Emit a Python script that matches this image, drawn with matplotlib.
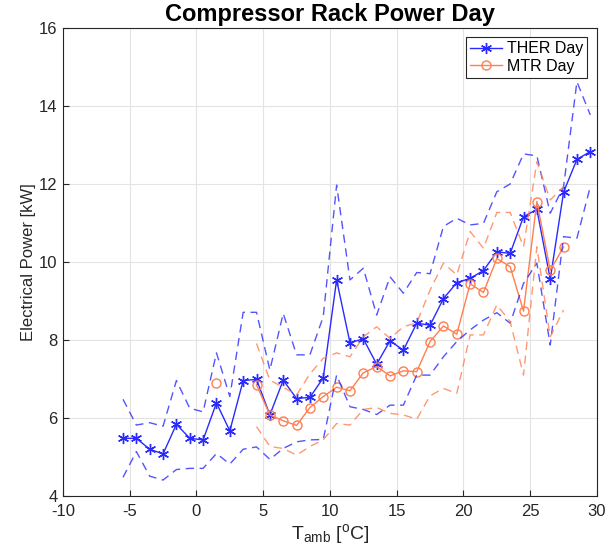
import numpy as np
import matplotlib
matplotlib.use("Agg")
import matplotlib.pyplot as plt

plt.rcParams['font.family'] = ['Liberation Sans', 'DejaVu Sans']
plt.rcParams['mathtext.fontset'] = 'custom'
plt.rcParams['mathtext.rm'] = 'Liberation Sans'
plt.rcParams['mathtext.it'] = 'Liberation Sans'
plt.rcParams['axes.unicode_minus'] = False

nan = np.nan
t_amb = [-5.5, -4.5, -3.5, -2.5, -1.5, -0.5, 0.5, 1.5, 2.5, 3.5, 4.5, 5.5,
         6.5, 7.5, 8.5, 9.5, 10.5, 11.5, 12.5, 13.5, 14.5, 15.5, 16.5, 17.5,
         18.5, 19.5, 20.5, 21.5, 22.5, 23.5, 24.5, 25.5, 26.5, 27.5, 28.5, 29.5]

ther_mean = [5.48, 5.48, 5.20, 5.08, 5.84, 5.48, 5.44, 6.39, 5.67, 6.96, 6.99, 6.08,
             6.97, 6.50, 6.53, 7.03, 9.54, 7.93, 8.03, 7.38, 7.98, 7.74, 8.43, 8.38,
             9.06, 9.47, 9.58, 9.78, 10.26, 10.22, 11.16, 11.35, 9.56, 11.79, 12.63, 12.83]
ther_upper = [6.48, 5.82, 5.88, 5.79, 6.96, 6.25, 6.16, 7.67, 6.55, 8.71, 8.71, 7.23,
              8.68, 7.62, 7.62, 8.60, 11.97, 9.54, 9.84, 8.64, 9.62, 9.20, 9.73, 9.70,
              10.91, 11.12, 10.95, 10.99, 11.80, 12.00, 12.77, 12.72, 11.25, 11.93, 14.62, 13.77]
ther_lower = [4.48, 5.14, 4.51, 4.41, 4.68, 4.71, 4.71, 5.09, 4.82, 5.20, 5.26, 4.94,
              5.22, 5.39, 5.44, 5.45, 7.10, 6.29, 6.22, 6.09, 6.33, 6.33, 7.10, 7.10,
              7.57, 7.96, 8.26, 8.51, 8.70, 8.43, 9.45, 9.97, 7.87, 10.65, 10.61, 11.93]

mtr_mean = [nan, nan, nan, nan, nan, nan, nan, 6.89, nan, nan, 6.85, 6.08,
            5.93, 5.81, 6.27, 6.55, 6.79, 6.70, 7.16, 7.32, 7.08, 7.21, 7.19, 7.96,
            8.36, 8.15, 9.44, 9.22, 10.09, 9.88, 8.74, 11.55, 9.79, 10.38, nan, nan]
mtr_upper = [nan, nan, nan, nan, nan, nan, nan, 6.89, nan, nan, 7.91, 6.97,
             6.79, 6.59, 7.13, 7.53, 7.67, 7.57, 8.08, 8.34, 8.04, 8.34, 8.44, 9.28,
             9.97, 9.67, 10.78, 10.35, 11.27, 11.27, 10.39, 12.57, 11.59, 11.93, nan, nan]
mtr_lower = [nan, nan, nan, nan, nan, nan, nan, 6.89, nan, nan, 5.78, 5.27,
             5.22, 5.05, 5.27, 5.44, 5.86, 5.82, 6.22, 6.27, 6.12, 6.08, 5.97, 6.57,
             6.76, 6.63, 8.13, 8.13, 8.90, 8.47, 7.10, 10.39, 8.08, 8.77, nan, nan]

xticks = [-10, -5, 0, 5, 10, 15, 20, 25, 30]
yticks = [4, 6, 8, 10, 12, 14, 16]

blue = '#2a2aff'
orange = '#ff7f50'

fig = plt.figure(figsize=(6.11, 5.58), dpi=100)
ax = fig.add_axes([0.103, 0.111, 0.874, 0.839])

ax.plot(t_amb, ther_mean, '-', color=blue, marker=(6, 2, 0), markersize=8,
        markeredgewidth=1.0, linewidth=1.0, label='THER Day')
ax.plot(t_amb, mtr_mean, '-', color=orange, marker='o', markersize=6.5,
        markerfacecolor='none', linewidth=1.0, label='MTR Day')
ax.plot(t_amb, ther_upper, '--', color=blue, alpha=0.8, linewidth=1.0, dashes=(6, 4))
ax.plot(t_amb, ther_lower, '--', color=blue, alpha=0.8, linewidth=1.0, dashes=(6, 4))
ax.plot(t_amb, mtr_upper, '--', color=orange, alpha=0.8, linewidth=1.0, dashes=(6, 4))
ax.plot(t_amb, mtr_lower, '--', color=orange, alpha=0.8, linewidth=1.0, dashes=(6, 4))

ax.set_xlim(-10, 30)
ax.set_ylim(4, 16)
ax.set_xticks(xticks)
ax.set_yticks(yticks)
ax.tick_params(direction='in', length=4, labelsize=12, colors='#262626',
               top=False, right=False)
ax.tick_params(axis='x', pad=6)
ax.tick_params(axis='y', pad=4)
ax.grid(True, color='#e3e3e3', linewidth=0.8)
for s in ax.spines.values():
    s.set_color('#262626')
    s.set_linewidth(0.8)

ax.set_title('Compressor Rack Power Day', fontsize=17, fontweight='bold', pad=5)
ax.set_xlabel(r'T$_{\mathrm{amb}}$ [$^{\mathrm{o}}$C]', fontsize=14, color='#262626',
              labelpad=2)
ax.set_ylabel('Electrical Power [kW]', fontsize=12, color='#262626', labelpad=2)

leg = ax.legend(loc='upper right', fontsize=11.5, fancybox=False, framealpha=1,
                edgecolor='#262626', borderpad=0.25, labelspacing=0.15,
                handlelength=2.0, handletextpad=0.3, borderaxespad=0.6)
leg.get_frame().set_linewidth(0.8)

fig.savefig('out.png', dpi=100)
